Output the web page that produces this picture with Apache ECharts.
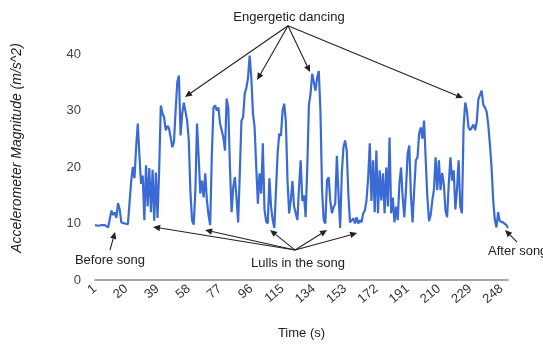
<!DOCTYPE html>
<html>
<head>
<meta charset="utf-8">
<script src="https://cdn.jsdelivr.net/npm/echarts@6/dist/echarts.min.js"></script>
<style>
html,body{margin:0;padding:0;background:#fff;}
#chart{width:543px;height:348px;}
</style>
</head>
<body>
<div id="chart"></div>
<script>
// Time in seconds (categories 1..252)
const timeSeconds = [];
for (let t = 1; t <= 252; t++) timeSeconds.push(String(t));

// Tick labels shown on the time axis
const tickLabels = ['1','20','39','58','77','96','115','134','153','172','191','210','229','248'];

// Accelerometer magnitude (m/s^2)
const magnitude = [
  9.7, 9.7, 9.6, 9.7, 9.7, 9.6, 9.7, 9.5, 9.3, 9.0,
  12.3, 11.5, 12.0, 11.0, 13.6, 12.5, 10.2, 10.0, 10.0, 10.1,
  9.9, 10.0, 17.5, 20.0, 18.0, 23.5, 27.7, 22.0, 17.0, 18.5,
  10.6, 20.3, 13.0, 19.8, 12.0, 19.5, 10.5, 19.0, 11.0, 19.5,
  30.9, 29.5, 28.8, 26.5, 27.3, 26.8, 25.2, 23.5, 24.5, 30.0,
  35.0, 36.2, 25.6, 29.4, 31.4, 29.8, 28.2, 24.7, 15.5, 10.5,
  9.8, 15.9, 27.7, 21.7, 15.3, 17.6, 14.6, 18.9, 14.1, 11.5,
  9.7, 22.0, 30.5, 30.9, 30.0, 30.5, 27.7, 26.5, 25.2, 22.9,
  32.1, 30.5, 20.0, 12.0, 16.4, 18.2, 14.6, 10.2, 18.9, 28.2,
  28.8, 33.0, 34.0, 35.8, 39.7, 35.8, 29.5, 27.0, 20.0, 13.5,
  18.9, 15.3, 24.2, 12.5, 10.4, 10.0, 18.0, 13.0, 10.6, 9.2,
  15.9, 22.5, 25.9, 25.5, 30.0, 31.2, 28.0, 17.5, 11.8, 14.1,
  17.5, 13.0, 12.9, 10.6, 16.4, 21.2, 14.0, 15.0, 11.1, 19.9,
  31.0, 33.0, 36.5, 36.5, 33.5, 35.8, 37.0, 30.0, 15.9, 10.6,
  10.0, 17.6, 18.2, 14.0, 11.8, 12.9, 13.5, 22.0, 15.0, 9.2,
  18.9, 23.5, 24.7, 22.9, 15.0, 10.2, 10.4, 10.9, 10.0, 11.1,
  10.0, 10.6, 10.2, 11.8, 12.3, 14.1, 18.0, 24.2, 14.0, 21.2,
  12.0, 22.9, 11.8, 19.4, 14.1, 18.9, 11.8, 19.9, 13.0, 25.2,
  11.8, 14.6, 10.2, 13.0, 10.6, 17.0, 19.9, 14.6, 11.1, 16.0,
  22.4, 23.8, 15.0, 10.2, 16.0, 21.2, 21.7, 25.9, 27.0, 25.0,
  28.2, 21.2, 14.6, 10.4, 11.5, 14.1, 16.0, 21.7, 15.9, 21.2,
  15.9, 18.9, 17.0, 12.3, 11.1, 17.0, 21.7, 17.6, 19.4, 12.5,
  16.0, 21.2, 13.0, 11.8, 27.0, 31.4, 30.0, 27.0, 26.5, 26.5,
  27.5, 26.5, 28.0, 32.0, 31.7, 33.5, 31.0, 30.5, 29.8, 27.5,
  24.0, 20.0, 14.1, 10.6, 9.3, 12.0, 10.4, 10.2, 10.2, 9.9,
  9.7, 9.2
];

// Annotations, anchored in data space: [time, magnitude]
const energeticText = { label: 'Engergetic dancing', at: [118.9, 46.5] };
const energeticFrom = [118.3, 45.0];
const energeticTips = [[55.7, 32.4], [99.5, 35.4], [131.7, 36.8], [224.7, 32.2]];

const beforeText = { label: 'Before song', at: [10.1, 3.5] };
const beforeFrom = [10.1, 5.3];
const beforeTips = [[13.2, 8.5]];

const lullsText = { label: 'Lulls in the song', at: [124.4, 3.0] };
const lullsFrom = [122.6, 5.3];
const lullsTips = [[36.3, 9.4], [67.9, 8.85], [107.4, 8.85], [142.0, 8.85], [160.3, 8.3]];

const afterText = { label: 'After song', at: [239.9, 5.0] };
const afterFrom = [257.5, 6.7];
const afterTips = [[250.2, 8.85]];

const FONT = '"Liberation Sans", Arial, sans-serif';

const chart = echarts.init(document.getElementById('chart'), null, { renderer: 'canvas' });

chart.setOption({
  animation: false,
  backgroundColor: '#ffffff',
  grid: { left: 95, right: 35, top: 54, bottom: 68, containLabel: false },
  xAxis: {
    type: 'category',
    data: timeSeconds,
    boundaryGap: false,
    name: 'Time (s)',
    nameLocation: 'middle',
    nameGap: 47,
    nameTextStyle: { fontFamily: FONT, fontSize: 13, color: '#222' },
    axisLine: { show: true, lineStyle: { color: '#8a8a8a', width: 1.5 } },
    axisTick: { show: false },
    splitLine: { show: false },
    axisLabel: {
      interval: function (idx, val) { return tickLabels.indexOf(val) >= 0; },
      rotate: 40,
      margin: 7,
      fontFamily: FONT,
      fontSize: 13,
      color: '#333'
    }
  },
  yAxis: {
    type: 'value',
    min: 0,
    max: 40,
    interval: 10,
    axisLine: { show: false },
    axisTick: { show: false },
    splitLine: { show: false },
    axisLabel: { margin: 14, fontFamily: FONT, fontSize: 13, color: '#444' }
  },
  series: [{
    type: 'line',
    data: magnitude,
    showSymbol: false,
    symbol: 'none',
    clip: false,
    lineStyle: { color: '#3a6bd4', width: 2.2 },
    itemStyle: { color: '#3a6bd4' }
  }]
});

function toPx(pt) {
  const a = chart.convertToPixel({ gridIndex: 0 }, [0, 0]);
  const b = chart.convertToPixel({ gridIndex: 0 }, [timeSeconds.length - 1, 40]);
  const x = a[0] + (pt[0] - 1) * (b[0] - a[0]) / (timeSeconds.length - 1);
  const y = a[1] + pt[1] * (b[1] - a[1]) / 40;
  return [x, y];
}

function arrow(from, to) {
  const p = toPx(from), q = toPx(to);
  const dx = q[0] - p[0], dy = q[1] - p[1];
  const len = Math.sqrt(dx * dx + dy * dy);
  const ux = dx / len, uy = dy / len;
  const hl = 7, hw = 3.2;
  const bx = q[0] - ux * hl, by = q[1] - uy * hl;
  return [
    { type: 'line', silent: true, shape: { x1: p[0], y1: p[1], x2: bx, y2: by },
      style: { stroke: '#222', lineWidth: 1.1 } },
    { type: 'polygon', silent: true,
      shape: { points: [[q[0], q[1]], [bx - uy * hw, by + ux * hw], [bx + uy * hw, by - ux * hw]] },
      style: { fill: '#222' } }
  ];
}

function textEl(t, align) {
  const p = toPx(t.at);
  return { type: 'text', silent: true, x: p[0], y: p[1],
    style: { text: t.label, fontFamily: FONT, fontSize: 13, fill: '#222',
      textAlign: align || 'center', textVerticalAlign: 'middle' } };
}

const els = [];
els.push(textEl(energeticText));
energeticTips.forEach(t => els.push(...arrow(energeticFrom, t)));
els.push(textEl(beforeText));
beforeTips.forEach(t => els.push(...arrow(beforeFrom, t)));
els.push(textEl(lullsText));
lullsTips.forEach(t => els.push(...arrow(lullsFrom, t)));
els.push(textEl(afterText, 'left'));
afterTips.forEach(t => els.push(...arrow(afterFrom, t)));

// Y axis title
els.push({ type: 'text', silent: true, x: 17, y: 148, rotation: Math.PI / 2,
  style: { text: 'Accelerometer Magnitude (m/s^2)', fontFamily: FONT, fontSize: 14,
    fontStyle: 'italic', fill: '#222', textAlign: 'center', textVerticalAlign: 'middle' } });

chart.setOption({ graphic: { elements: els } });
</script>
</body>
</html>
